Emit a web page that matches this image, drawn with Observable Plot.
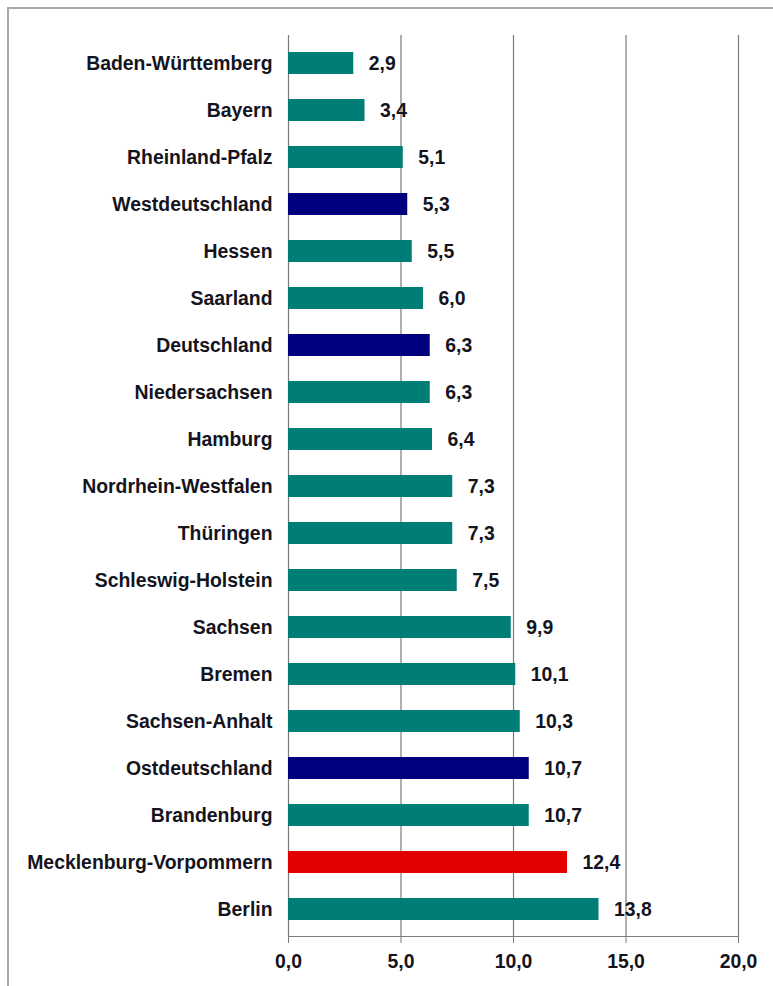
<!DOCTYPE html>
<html>
<head>
<meta charset="utf-8">
<script src="https://cdn.jsdelivr.net/npm/d3@7"></script>
<script src="https://cdn.jsdelivr.net/npm/@observablehq/plot@0.6"></script>
<style>
  html, body { margin: 0; padding: 0; background: #fff; }
  #wrap { position: relative; width: 773px; height: 986px; overflow: hidden; }
  #border { position: absolute; left: 7px; top: 7px; width: 780px; height: 990px;
            border-left: 2px solid #a9a9a9; border-top: 2px solid #a9a9a9; pointer-events: none; }
</style>
</head>
<body>
<div id="wrap"><div id="chart"></div><div id="border"></div></div>
<script>
const categories = [
  "Baden-Württemberg", "Bayern", "Rheinland-Pfalz", "Westdeutschland", "Hessen",
  "Saarland", "Deutschland", "Niedersachsen", "Hamburg", "Nordrhein-Westfalen",
  "Thüringen", "Schleswig-Holstein", "Sachsen", "Bremen", "Sachsen-Anhalt",
  "Ostdeutschland", "Brandenburg", "Mecklenburg-Vorpommern", "Berlin"
];
const values = [2.9, 3.4, 5.1, 5.3, 5.5, 6.0, 6.3, 6.3, 6.4, 7.3, 7.3, 7.5, 9.9, 10.1, 10.3, 10.7, 10.7, 12.4, 13.8];
const kinds = [
  "Land", "Land", "Land", "Aggregat", "Land",
  "Land", "Aggregat", "Land", "Land", "Land",
  "Land", "Land", "Land", "Land", "Land",
  "Aggregat", "Land", "Hervorgehoben", "Land"
];
const kindDomain = ["Land", "Aggregat", "Hervorgehoben"];
const kindColors = ["#007d77", "#00007f", "#e20000"];
const xTicks = [0, 5, 10, 15, 20];

const data = categories.map((c, i) => ({name: c, value: values[i], kind: kinds[i]}));
const fmt = v => v.toFixed(1).replace(".", ",");

const chart = Plot.plot({
  width: 773,
  height: 986,
  marginTop: 35,
  marginBottom: 50,
  marginLeft: 288,
  marginRight: 35,
  style: {fontFamily: "'Liberation Sans', Arial, sans-serif", fontSize: "19.4px", fontWeight: "bold", color: "#141420", background: "transparent"},
  x: {domain: [0, 20]},
  y: {domain: categories, paddingInner: 0.54, paddingOuter: 0.27, align: 0.5},
  color: {domain: kindDomain, range: kindColors},
  marks: [
    Plot.ruleX(xTicks, {stroke: "#7a7a7a", strokeWidth: 1.2}),
    Plot.frame({anchor: "bottom", stroke: "#7a7a7a", strokeWidth: 1.2}),
    Plot.axisX({ticks: xTicks, tickFormat: fmt, tickSize: 7, tickPadding: 11, stroke: "#7a7a7a", label: null, fontSize: 19.4}),
    Plot.axisY({tickSize: 0, tickPadding: 16, label: null, fontSize: 19.4}),
    Plot.barX(data, {x: "value", y: "name", fill: "kind"}),
    Plot.text(data, {x: "value", y: "name", text: d => fmt(d.value), textAnchor: "start", dx: 15, fontSize: 19.4, fill: "#141420"})
  ]
});
document.getElementById("chart").append(chart);
</script>
</body>
</html>
